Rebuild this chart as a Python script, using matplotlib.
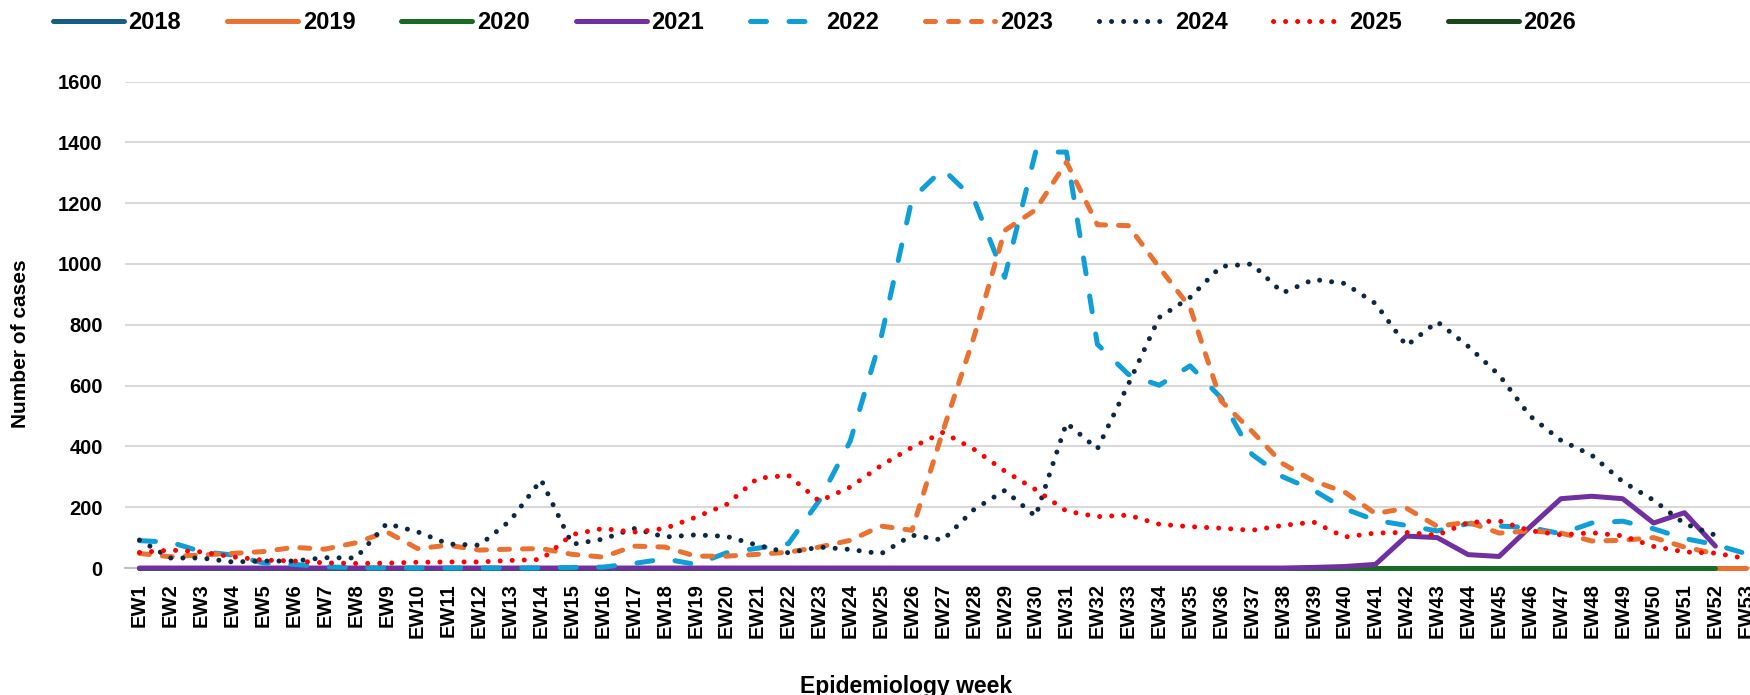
import matplotlib
matplotlib.use('Agg')
import matplotlib.pyplot as plt

plt.rcParams['font.family'] = ['Liberation Sans', 'DejaVu Sans']
plt.rcParams['font.weight'] = 'bold'

weeks = ['EW%d' % i for i in range(1, 54)]

# weekly case counts per year
y2018 = [0] * 52
y2019 = [0] * 53
y2020 = [0] * 52
y2021 = [0] * 38 + [2, 5, 12, 105, 100, 44, 38, 135, 228, 236, 228, 148, 182, 72]
y2022 = [90, 85, 54, 43, 17, 12, 4, 1, 0, 0, 0, 0, 0, 0, 2, 3, 15, 30, 12, 50,
         65, 80, 222, 417, 758, 1214, 1312, 1214, 956, 1368, 1368, 736, 637, 601, 665, 560,
         374, 300, 256, 195, 157, 140, 122, 146, 138, 133, 113, 148, 154, 129, 97, 77, 47]
y2023 = [48, 37, 43, 48, 54, 68, 62, 83, 119, 64, 75, 59, 62, 64, 45, 36, 72, 69, 39, 39,
         45, 52, 69, 91, 138, 124, 450, 758, 1110, 1178, 1335, 1129, 1126, 989, 857, 550,
         450, 343, 286, 250, 179, 197, 137, 151, 115, 122, 115, 89, 91, 100, 69, 47]
y2024 = [92, 33, 33, 20, 23, 23, 34, 33, 146, 119, 79, 75, 156, 290, 78, 95, 130, 102, 109, 104,
         75, 50, 69, 61, 47, 108, 92, 192, 255, 170, 477, 392, 604, 824, 890, 992,
         1000, 905, 949, 936, 870, 731, 810, 729, 635, 500, 420, 371, 284, 223, 146, 108]
y2025 = [51, 59, 53, 37, 26, 23, 17, 15, 16, 19, 20, 20, 25, 28, 110, 130, 118, 130, 167, 209,
         295, 305, 220, 266, 337, 397, 446, 391, 319, 258, 187, 169, 174, 144, 136, 131,
         124, 140, 151, 102, 115, 117, 108, 150, 155, 123, 109, 116, 106, 71, 53, 49, 31]
y2026 = [0]

years = ['2018', '2019', '2020', '2021', '2022', '2023', '2024', '2025', '2026']
series = [y2018, y2019, y2020, y2021, y2022, y2023, y2024, y2025, y2026]

colors = ['#156082', '#E97132', '#196B24', '#7030A0', '#0F9ED5',
          '#E97132', '#0E2841', '#FF0000', '#17471B']
styles = ['-', '-', '-', '-', (0, (3.2, 4.5)), (0, (2.0, 2.6)),
          (0, (0.01, 2.4)), (0, (0.01, 2.4)), '-']

fig = plt.figure(figsize=(17.5, 6.95), dpi=100)
ax = fig.add_axes([0.0714, 0.1827, 0.9286, 0.70])

for yr, vals, c, ls in zip(years, series, colors, styles):
    ax.plot(range(len(vals)), vals, color=c, linestyle=ls, lw=3.6,
            dash_capstyle='round', solid_capstyle='round', solid_joinstyle='round',
            clip_on=False, label=yr, zorder=3)

ax.set_xlim(-0.47, 52.12)
ax.set_ylim(0, 1600)
ax.set_yticks(range(0, 1601, 200))
ax.set_xticks(range(len(weeks)))
ax.set_xticklabels(weeks, rotation=90, fontsize=14.5, fontweight='bold')
ax.tick_params(axis='y', length=0, pad=16, labelsize=14.5)
ax.tick_params(axis='x', length=0, pad=11)
ax.grid(axis='y', color='#D9D9D9', lw=1.5)
ax.set_axisbelow(True)
for s in ['top', 'right', 'left']:
    ax.spines[s].set_visible(False)
ax.spines['bottom'].set_color('#BFBFBF')
ax.spines['bottom'].set_linewidth(1.5)

fig.text(0.0115, 1 - 344 / 695, 'Number of cases', rotation=90, fontsize=15,
         fontweight='bold', ha='center', va='center')
fig.text(906 / 1750, 1 - 686 / 695, 'Epidemiology week', fontsize=16.5,
         fontweight='bold', ha='center', va='center')

fig.legend(loc='upper left', bbox_to_anchor=(53 / 1750, 1 - 11 / 695), ncol=9,
           frameon=False, fontsize=17, handlelength=3.0, handletextpad=0.2,
           columnspacing=1.95, borderpad=0, borderaxespad=0)

fig.savefig('out.png', dpi=100)
